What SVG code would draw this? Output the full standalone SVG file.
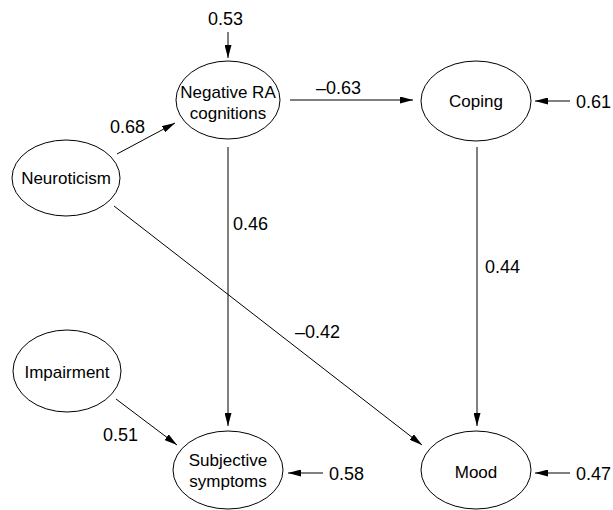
<svg xmlns="http://www.w3.org/2000/svg" width="613" height="510" viewBox="0 0 613 510">
<defs>
<marker id="ah" viewBox="0 0 13 7" refX="13" refY="3.5" markerWidth="13" markerHeight="7" markerUnits="userSpaceOnUse" orient="auto">
<path d="M0,0 L13,3.5 L0,7 Z" fill="#000"/>
</marker>
<style>
.n ellipse{fill:#fff;stroke:#000;stroke-width:1}
text{font-family:"Liberation Sans",Arial,sans-serif;font-size:17px;fill:#000}
#labels text{font-size:18px}
.n text{text-anchor:middle}
.c line{stroke:#000;stroke-width:1;marker-end:url(#ah)}
</style>
</defs>
<rect width="613" height="510" fill="#fff"/>
<g class="c" id="connectors">
<line x1="228" y1="32" x2="228" y2="58"/>
<line x1="117" y1="154" x2="175" y2="123"/>
<line x1="290" y1="100" x2="413" y2="100"/>
<line x1="570" y1="101" x2="535" y2="101"/>
<line x1="228" y1="147" x2="228" y2="426"/>
<line x1="477" y1="147" x2="477" y2="426"/>
<line x1="114" y1="206" x2="422" y2="445"/>
<line x1="116" y1="399" x2="177" y2="445"/>
<line x1="323" y1="473" x2="288" y2="473"/>
<line x1="570" y1="473" x2="535" y2="473"/>
</g>
<g id="labels">
<text x="208" y="25">0.53</text>
<text x="110" y="133">0.68</text>
<text x="316" y="94">–0.63</text>
<text x="576" y="108">0.61</text>
<text x="233" y="230">0.46</text>
<text x="485" y="273">0.44</text>
<text x="295" y="338">–0.42</text>
<text x="103" y="441">0.51</text>
<text x="329" y="480">0.58</text>
<text x="576" y="480">0.47</text>
</g>
<g class="n" id="negRA"><ellipse cx="228" cy="100" rx="52" ry="39"/><text x="228" y="98">Negative RA</text><text x="228" y="119">cognitions</text></g>
<g class="n" id="neuroticism"><ellipse cx="66" cy="178" rx="54" ry="38"/><text x="66" y="184">Neuroticism</text></g>
<g class="n" id="coping"><ellipse cx="476" cy="101" rx="55" ry="40"/><text x="476" y="107">Coping</text></g>
<g class="n" id="impairment"><ellipse cx="67" cy="371" rx="54" ry="41"/><text x="67" y="378">Impairment</text></g>
<g class="n" id="subjective"><ellipse cx="228" cy="470" rx="55" ry="39"/><text x="228" y="466">Subjective</text><text x="228" y="487">symptoms</text></g>
<g class="n" id="mood"><ellipse cx="476" cy="470" rx="55" ry="39"/><text x="476" y="478">Mood</text></g>
</svg>
